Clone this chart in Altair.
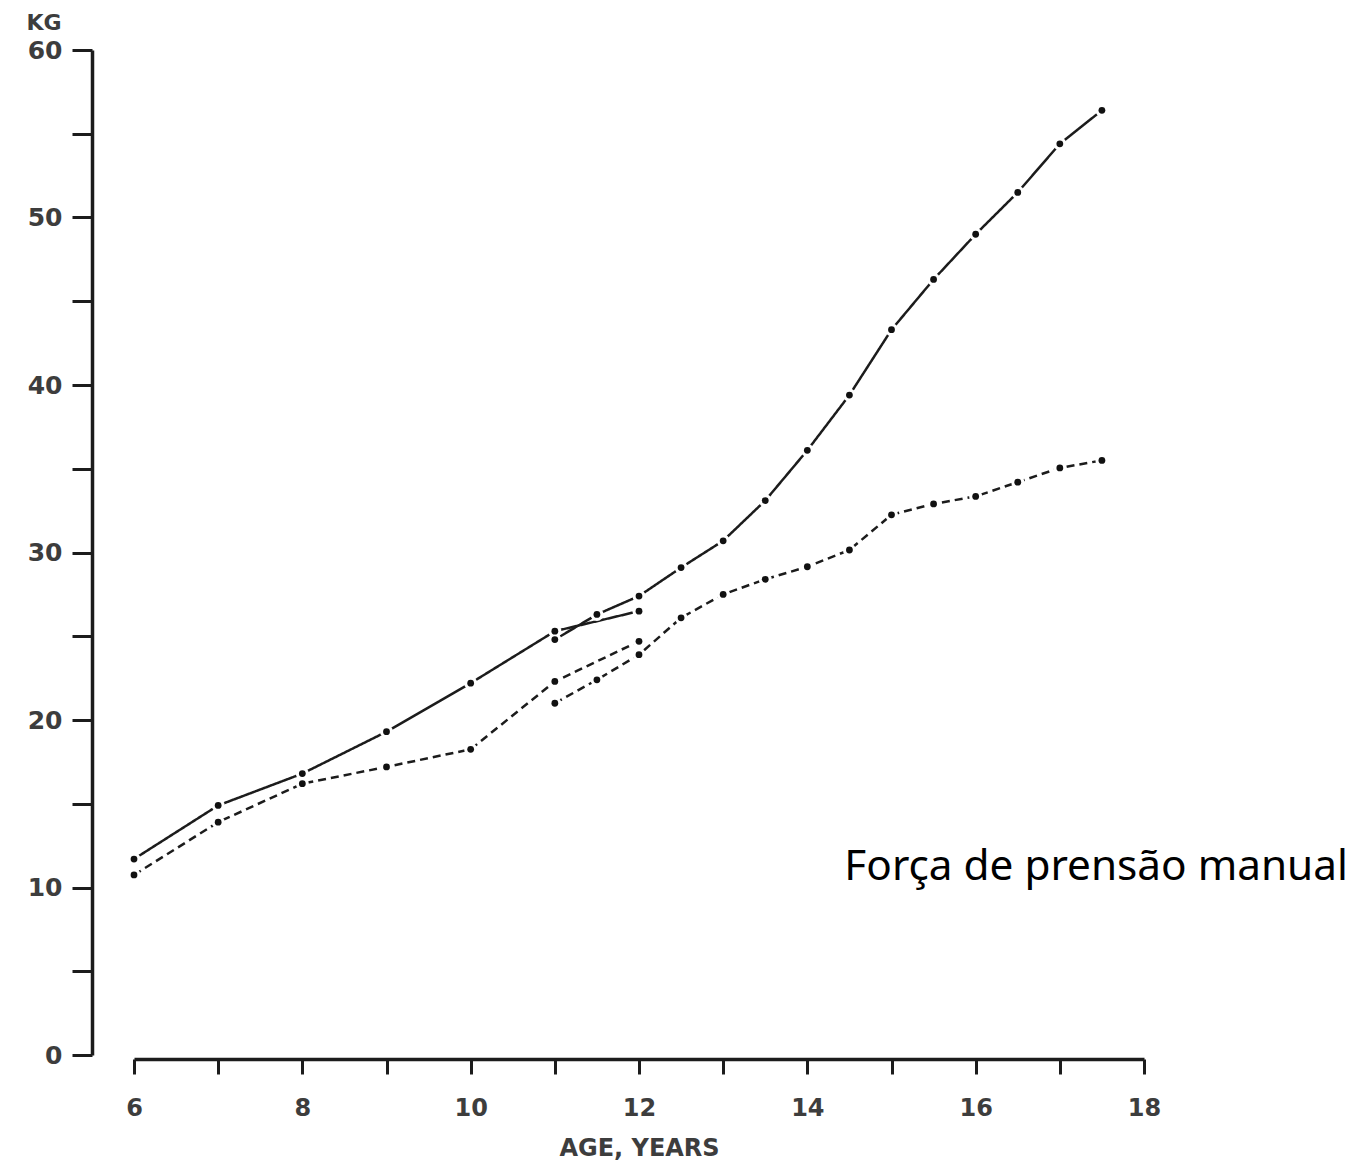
import altair as alt
import pandas as pd

# ---- data ----
boys_a_age = [6, 7, 8, 9, 10, 11, 12]
boys_a_kg = [11.7, 14.9, 16.8, 19.3, 22.2, 25.3, 26.5]

boys_b_age = [11, 11.5, 12, 12.5, 13, 13.5, 14, 14.5, 15, 15.5, 16, 16.5, 17, 17.5]
boys_b_kg = [24.8, 26.3, 27.4, 29.1, 30.7, 33.1, 36.1, 39.4, 43.3, 46.3, 49.0, 51.5, 54.4, 56.4]

girls_a_age = [6, 7, 8, 9, 10, 11, 12]
girls_a_kg = [10.75, 13.9, 16.2, 17.2, 18.25, 22.3, 24.7]

girls_b_age = [11, 11.5, 12, 12.5, 13, 13.5, 14, 14.5, 15, 15.5, 16, 16.5, 17, 17.5]
girls_b_kg = [21.0, 22.4, 23.9, 26.1, 27.5, 28.4, 29.15, 30.15, 32.25, 32.9, 33.35, 34.2, 35.05, 35.5]

series_names = ["Boys A", "Boys B", "Girls A", "Girls B"]
x_ticks = list(range(6, 19))
y_ticks = list(range(0, 61, 5))

rows = []
for name, ages, vals in [
    ("Boys A", boys_a_age, boys_a_kg),
    ("Boys B", boys_b_age, boys_b_kg),
    ("Girls A", girls_a_age, girls_a_kg),
    ("Girls B", girls_b_age, girls_b_kg),
]:
    for a, v in zip(ages, vals):
        rows.append({"age": a, "kg": v, "series": name})
df = pd.DataFrame(rows)

PLOT_W = 1053
PLOT_H = 1005
AXIS_FONT = "DejaVu Sans"
AXIS_COLOR = "#3d3d3d"
LINE_COLOR = "#1c1c1c"

x_scale = alt.Scale(domain=[6, 18], range=[42, 1052], nice=False, zero=False)
y_scale = alt.Scale(domain=[0, 60], nice=False)

x_axis = alt.Axis(
    values=x_ticks,
    format="d",
    labelExpr="datum.value % 2 == 0 ? datum.label : ''",
    labelFlush=False,
    labelAlign="center",
    title="AGE, YEARS",
    grid=False,
    offset=4,
    domainWidth=3.5,
    domainColor=LINE_COLOR,
    tickColor=LINE_COLOR,
    tickWidth=3,
    tickSize=15,
    labelFont=AXIS_FONT,
    labelFontWeight="bold",
    labelFontSize=24,
    labelColor=AXIS_COLOR,
    labelPadding=22,
    titleFont=AXIS_FONT,
    titleFontWeight="bold",
    titleFontSize=24,
    titleColor=AXIS_COLOR,
    titlePadding=16,
)

y_axis = alt.Axis(
    values=y_ticks,
    format="d",
    labelExpr="datum.value % 10 == 0 ? datum.label : ''",
    title="KG",
    titleAngle=0,
    titleAlign="right",
    titleBaseline="alphabetic",
    titleX=-31,
    titleY=-21,
    grid=False,
    domainWidth=3.5,
    domainColor=LINE_COLOR,
    tickColor=LINE_COLOR,
    tickWidth=3,
    tickSize=20,
    labelFont=AXIS_FONT,
    labelFontWeight="bold",
    labelFontSize=25,
    labelColor=AXIS_COLOR,
    labelPadding=10,
    titleFont=AXIS_FONT,
    titleFontWeight="bold",
    titleFontSize=22,
    titleColor=AXIS_COLOR,
)

base = alt.Chart(df).encode(
    x=alt.X("age:Q", scale=x_scale, axis=x_axis),
    y=alt.Y("kg:Q", scale=y_scale, axis=y_axis),
)

lines = base.mark_line(color=LINE_COLOR, strokeWidth=2.5).encode(
    detail="series:N",
    strokeDash=alt.StrokeDash(
        "series:N",
        scale=alt.Scale(domain=series_names, range=[[1, 0], [1, 0], [8, 5], [8, 5]]),
        legend=None,
    ),
)

halos = base.mark_circle(color="white", opacity=1, size=170)
dots = base.mark_circle(color="#111111", opacity=1, size=46)

label = alt.Chart(pd.DataFrame({"t": ["Força de prensão manual"]})).mark_text(
    font="Noto Sans",
    fontSize=42.3,
    color="black",
    align="left",
    baseline="alphabetic",
).encode(
    x=alt.datum(14.44, scale=x_scale),
    y=alt.datum(10.45),
    text="t:N",
)

chart = (
    alt.layer(lines, halos, dots, label)
    .properties(
        width=PLOT_W,
        height=PLOT_H,
        autosize=alt.AutoSizeParams(type="none"),
        padding={"left": 84, "top": 42, "right": 209, "bottom": 108},
        background="white",
    )
    .configure_view(stroke=None)
)

chart.save("out.html", embed_options={"renderer": "svg", "actions": False})
